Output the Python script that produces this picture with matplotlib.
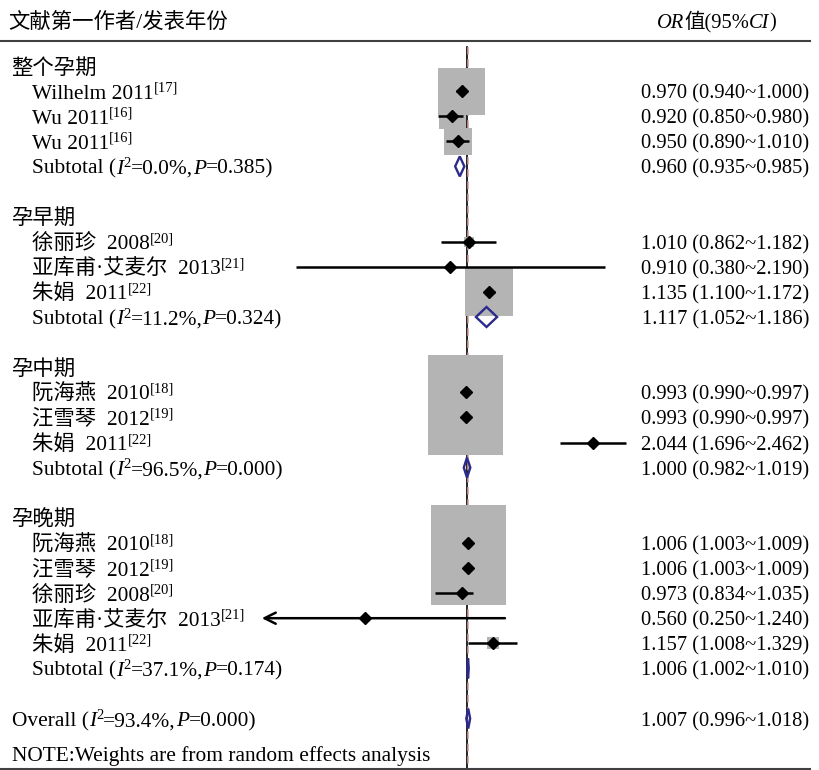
import numpy as np
import matplotlib
matplotlib.use("Agg")
import matplotlib.pyplot as plt
from matplotlib.transforms import IdentityTransform
from matplotlib.patches import Polygon
from matplotlib.lines import Line2D

# ---------------- data ----------------
groups = ["整个孕期", "孕早期", "孕中期", "孕晚期"]

study_names = [
    ["Wilhelm 2011", "Wu 2011", "Wu 2011"],
    ["徐丽珍  2008", "亚库甫·艾麦尔  2013", "朱娟  2011"],
    ["阮海燕  2010", "汪雪琴  2012", "朱娟  2011"],
    ["阮海燕  2010", "汪雪琴  2012", "徐丽珍  2008", "亚库甫·艾麦尔  2013", "朱娟  2011"],
]
study_refs = [
    ["17", "16", "16"],
    ["20", "21", "22"],
    ["18", "19", "22"],
    ["18", "19", "20", "21", "22"],
]
study_or = [
    [0.970, 0.920, 0.950],
    [1.010, 0.910, 1.135],
    [0.993, 0.993, 2.044],
    [1.006, 1.006, 0.973, 0.560, 1.157],
]
study_lo = [
    [0.940, 0.850, 0.890],
    [0.862, 0.380, 1.100],
    [0.990, 0.990, 1.696],
    [1.003, 1.003, 0.834, 0.250, 1.008],
]
study_hi = [
    [1.000, 0.980, 1.010],
    [1.182, 2.190, 1.172],
    [0.997, 0.997, 2.462],
    [1.009, 1.009, 1.035, 1.240, 1.329],
]
# random-effects weights (%)
study_weight = [
    [7.6, 2.4, 2.6],
    [0.34, 0.03, 7.9],
    [19.3, 19.3, 0.05],
    [19.3, 19.3, 1.4, 0.03, 0.5],
]

sub_i2 = ["0.0", "11.2", "96.5", "37.1"]
sub_p = ["0.385", "0.324", "0.000", "0.174"]
sub_or = [0.960, 1.117, 1.000, 1.006]
sub_lo = [0.935, 1.052, 0.982, 1.002]
sub_hi = [0.985, 1.186, 1.019, 1.010]

overall_i2 = "93.4"
overall_p = "0.000"
overall_or, overall_lo, overall_hi = 1.007, 0.996, 1.018

note_text = "NOTE:Weights are from random effects analysis"

# ---------------- layout / style ----------------
W, H = 820, 770
FIRST_ROW_PX = 66.0      # pixel centre of first row
ROW_PX = 25.1            # row pitch in pixels
FS = 14.8                # numeric column
FS_LEFT = 15.4           # label column
FAMILY = ["Liberation Serif", "Noto Sans CJK SC"]
BOX_COLOR = "#b4b4b4"
DIAMOND_COLOR = "#2b2b8c"
REF_COLOR = "#d49a9a"
X_HALF = 3.2             # symmetric OR axis range: 1/X_HALF .. X_HALF
PX_PER_LN = 176.4
NULL_PX = 467.0

fig = plt.figure(figsize=(W / 100, H / 100), dpi=100)
fig.patch.set_facecolor("white")

ax_left = NULL_PX - PX_PER_LN * np.log(X_HALF)
ax_width = 2 * PX_PER_LN * np.log(X_HALF)
ax = fig.add_axes([ax_left / W, 0, ax_width / W, 1])
ax.set_xscale("log")
ax.set_xlim(1 / X_HALF, X_HALF)


def px_to_row(py):
    return (py - FIRST_ROW_PX) / ROW_PX


ax.set_ylim(px_to_row(H), px_to_row(0))
ax.axis("off")

renderer = fig.canvas.get_renderer()


def rich_text(x, y, segments, ha="left", size=FS_LEFT):
    """Draw consecutive text runs on one baseline (display pixels)."""
    arts = []
    cur = x
    for txt, style in segments:
        kw = dict(fontsize=size, family=FAMILY)
        dy = 0
        if style == "it":
            kw["style"] = "italic"
        elif style == "sup":
            kw["fontsize"] = size * 0.68
            dy = 7
        t = fig.text(cur, y + dy, txt, transform=IdentityTransform(),
                     va="baseline", ha="left", **kw)
        w = t.get_window_extent(renderer).width
        arts.append((t, cur - x, dy))
        cur += w
    total = cur - x
    if ha == "right":
        for t, off, dy in arts:
            t.set_x(x - total + off)
    return arts


def row_baseline(r):
    return ax.transData.transform((1.0, r))[1] - 7.5


def fmt_ci(o, lo, hi):
    return f"{o:.3f} ({lo:.3f}~{hi:.3f})"


def draw_diamond(o, lo, hi, r):
    h = 10.0 / ROW_PX
    poly = Polygon([(lo, r), (o, r - h), (hi, r), (o, r + h)], closed=True,
                   fill=False, edgecolor=DIAMOND_COLOR, lw=1.7, zorder=4,
                   joinstyle="miter")
    ax.add_patch(poly)


# header
hdr_y = H - 27.5
rich_text(8, hdr_y, [("文献第一作者/发表年份", "n")])
rich_text(657, hdr_y, [("OR", "it"), ("值(95%", "n"), ("CI", "it"), (")", "n")], size=FS)
fig.add_artist(Line2D([0, 810 / W], [1 - 41 / H] * 2, transform=fig.transFigure,
                      color="#404040", lw=1.5))
fig.add_artist(Line2D([0, 810 / W], [1 - 768.5 / H] * 2, transform=fig.transFigure,
                      color="#404040", lw=1.5))

# reference lines
y_top, y_bot = px_to_row(47), px_to_row(H)
ax.plot([1, 1], [y_top, y_bot], color="black", lw=1.2, zorder=1)
ax.plot([overall_or, overall_or], [y_top, y_bot], color=REF_COLOR, lw=1.1,
        ls=(0, (5, 3)), zorder=1.5)

row = 0
xmin, xmax = ax.get_xlim()
for g, gname in enumerate(groups):
    rich_text(11, row_baseline(row), [(gname, "n")])
    row += 1
    for name, ref, o, lo, hi, w in zip(study_names[g], study_refs[g], study_or[g],
                                       study_lo[g], study_hi[g], study_weight[g]):
        rich_text(32, row_baseline(row), [(name, "n"), (f"[{ref}]", "sup")])
        rich_text(809, row_baseline(row), [(fmt_ci(o, lo, hi), "n")], ha="right", size=FS)
        # weight box (area proportional to weight)
        ax.scatter([o], [row], s=150.9 * w, marker="s", color=BOX_COLOR,
                   edgecolors="none", zorder=2)
        # confidence interval
        if lo < xmin:
            ax.annotate("", xy=(xmin, row), xytext=(hi, row),
                        arrowprops=dict(arrowstyle="->,head_length=0.8,head_width=0.4",
                                        lw=1.8, color="black", shrinkA=0, shrinkB=0),
                        zorder=3)
        else:
            ax.plot([lo, min(hi, xmax)], [row, row], color="black", lw=1.8,
                    solid_capstyle="butt", zorder=3)
        ax.plot([o], [row], marker="D", ms=6.3, color="black", mec="black", zorder=4)
        row += 1
    rich_text(32, row_baseline(row),
              [("Subtotal (", "n"), ("I", "it"), ("2", "sup"),
               (f"={sub_i2[g]}%,", "n"), ("P", "it"), (f"={sub_p[g]})", "n")])
    rich_text(809, row_baseline(row), [(fmt_ci(sub_or[g], sub_lo[g], sub_hi[g]), "n")],
              ha="right", size=FS)
    draw_diamond(sub_or[g], sub_lo[g], sub_hi[g], row)
    row += 2

rich_text(12, row_baseline(row),
          [("Overall (", "n"), ("I", "it"), ("2", "sup"),
           (f"={overall_i2}%,", "n"), ("P", "it"), (f"={overall_p})", "n")])
rich_text(809, row_baseline(row), [(fmt_ci(overall_or, overall_lo, overall_hi), "n")],
          ha="right", size=FS)
draw_diamond(overall_or, overall_lo, overall_hi, row)

rich_text(12, H - 760.5, [(note_text, "n")])

fig.savefig("out.png", dpi=100, facecolor="white")
